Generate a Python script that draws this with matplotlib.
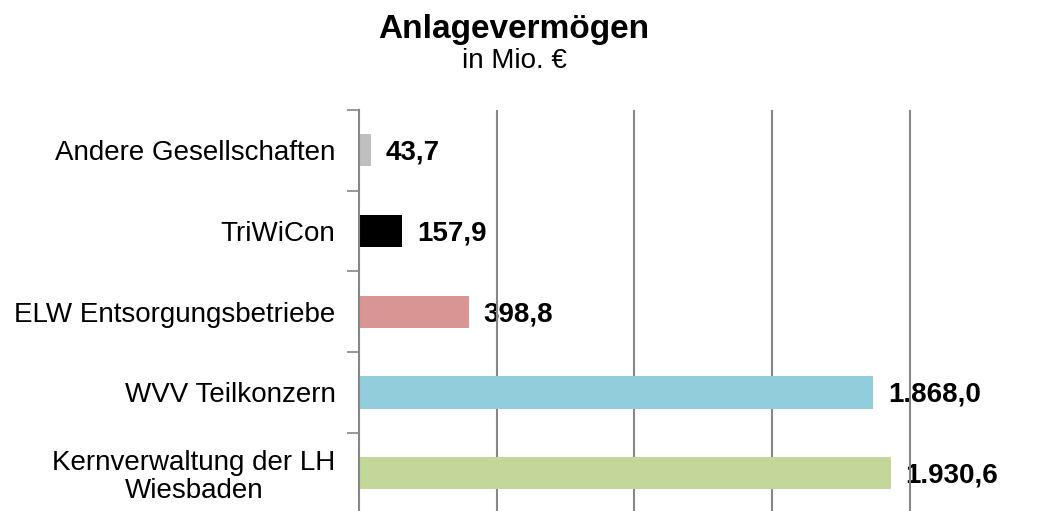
import numpy as np
import matplotlib.pyplot as plt
from matplotlib.ticker import FixedLocator

plt.rcParams['font.family'] = ['Liberation Sans', 'DejaVu Sans']

categories = ['Andere Gesellschaften', 'TriWiCon', 'ELW Entsorgungsbetriebe',
              'WVV Teilkonzern', 'Kernverwaltung der LH\nWiesbaden']
values = [43.7, 157.9, 398.8, 1868.0, 1930.6]
value_labels = ['43,7', '157,9', '398,8', '1.868,0', '1.930,6']
colors = ['#BFBFBF', '#000000', '#D99594', '#92CDDC', '#C4D79B']

fig = plt.figure(figsize=(10.38, 5.11), dpi=100)
# axes runs a bit past the right and bottom edges, like the cropped original
ax = fig.add_axes([359/1038, 1 - 513.5/511, (1047.5 - 359)/1038, (513.5 - 110)/511])

y = np.arange(len(categories))
ax.barh(y, values, height=0.4, color=colors, zorder=2)
ax.set_ylim(len(categories) - 0.5, -0.5)
ax.set_xlim(0, 2500)

for yi, v, lab in zip(y, values, value_labels):
    ax.text(v + 52, yi + 0.03, lab, va='center', ha='left', fontsize=20,
            fontweight='bold', color='black', zorder=1)

ax.set_yticks(y)
ax.set_yticklabels(categories, fontsize=20, linespacing=1.08,
                   ha='right', multialignment='center')
ax.yaxis.set_minor_locator(FixedLocator(np.arange(-0.5, len(categories), 1)))
ax.tick_params(axis='y', which='major', length=0, pad=17)
ax.tick_params(axis='y', which='minor', length=9, width=1.2, color='#868686')
ax.xaxis.set_major_locator(FixedLocator([500, 1000, 1500, 2000]))
ax.tick_params(axis='x', length=0, labelbottom=False)
ax.grid(axis='x', color='#868686', linewidth=1.5, zorder=3)

for s in ['top', 'right', 'bottom']:
    ax.spines[s].set_visible(False)
ax.spines['left'].set_color('#868686')
ax.spines['left'].set_linewidth(1.5)
ax.spines['left'].set_zorder(4)

fig.text(514/1038, 1 - 38/511, 'Anlagevermögen', ha='center', va='baseline',
         fontsize=24, fontweight='bold')
fig.text(514/1038, 1 - 68/511, 'in Mio. €', ha='center', va='baseline',
         fontsize=20)

fig.savefig('out.png', dpi=100)
